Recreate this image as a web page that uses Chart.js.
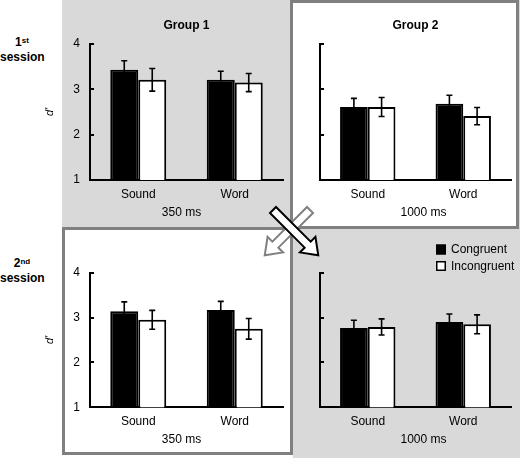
<!DOCTYPE html>
<html>
<head>
<meta charset="utf-8">
<script src="https://cdn.jsdelivr.net/npm/chart.js@4/dist/chart.umd.min.js"></script>
<style>
  html, body { margin:0; padding:0; background:#fff; }
  body { width:520px; height:458px; position:relative; overflow:hidden; font-family:"Liberation Sans", Arial, sans-serif; }
  .abs { position:absolute; }
  .box { position:absolute; box-sizing:border-box; border:3px solid #808080; background:#fff; }
  .sess { position:absolute; width:44px; text-align:center; font-weight:bold; font-size:12px; line-height:15px; color:#000; }
  .sess sup { font-size:8px; vertical-align:top; position:relative; top:-2px; }
</style>
</head>
<body>
<div class="abs" style="left:62px;top:0;width:458px;height:458px;background:#d9d9d9"></div>
<div class="box" style="left:290px;top:0;width:229px;height:229px"></div>
<div class="box" style="left:62px;top:227px;width:231px;height:228px"></div>
<div class="abs" style="left:62px;top:455px;width:231px;height:3px;background:#fff"></div>

<div class="sess" style="left:0;top:35px">1<sup>st</sup><br>session</div>
<div class="sess" style="left:0;top:256px">2<sup>nd</sup><br>session</div>

<div class="abs" style="left:0;top:0;width:290px;height:226px"><canvas id="c1" width="290" height="226"></canvas></div>
<div class="abs" style="left:290px;top:0;width:228px;height:226px"><canvas id="c2" width="228" height="226"></canvas></div>
<div class="abs" style="left:0;top:228px;width:293px;height:228px"><canvas id="c3" width="293" height="228"></canvas></div>
<div class="abs" style="left:290px;top:228px;width:230px;height:230px"><canvas id="c4" width="230" height="230"></canvas></div>

<svg class="abs" style="left:0;top:0;z-index:10" width="520" height="458">
  <polygon points="0,-4.25 49,-4.25 49,-11 64,0 49,11 49,4.25 0,4.25" transform="translate(310,210) rotate(135)" fill="#fff" stroke="#808080" stroke-width="2" stroke-linejoin="miter"/>
  <polygon points="0,-4.25 49,-4.25 49,-11 64,0 49,11 49,4.25 0,4.25" transform="translate(273,210) rotate(45)" fill="#fff" stroke="#000" stroke-width="2" stroke-linejoin="miter"/>
</svg>

<script>
// ---- data ----
const categories = ['Sound', 'Word'];
const seriesNames = ['Congruent', 'Incongruent'];
const yTicks = [1, 2, 3, 4];
const yAxisTitle = "d'";
const panelTitles = ['Group 1', 'Group 2'];
const durationLabels = ['350 ms', '1000 ms', '350 ms', '1000 ms'];

// Group 1, 1st session (350 ms)
const g1s1Congruent = [3.43, 3.21];
const g1s1CongruentErr = [0.20, 0.19];
const g1s1Incongruent = [3.21, 3.15];
const g1s1IncongruentErr = [0.25, 0.20];
// Group 2, 1st session (1000 ms)
const g2s1Congruent = [2.61, 2.68];
const g2s1CongruentErr = [0.19, 0.19];
const g2s1Incongruent = [2.61, 2.41];
const g2s1IncongruentErr = [0.21, 0.19];
// Group 1, 2nd session (350 ms)
const g1s2Congruent = [3.14, 3.17];
const g1s2CongruentErr = [0.21, 0.19];
const g1s2Incongruent = [2.95, 2.75];
const g1s2IncongruentErr = [0.21, 0.23];
// Group 2, 2nd session (1000 ms)
const g2s2Congruent = [2.77, 2.90];
const g2s2CongruentErr = [0.17, 0.18];
const g2s2Incongruent = [2.79, 2.85];
const g2s2IncongruentErr = [0.18, 0.21];

const FONT = '"Liberation Sans", Arial, sans-serif';

// ---- plugins ----
const errorBars = {
  id: 'errorBars',
  afterDatasetsDraw(chart) {
    const ctx = chart.ctx, y = chart.scales.y;
    ctx.save();
    ctx.strokeStyle = '#000';
    ctx.lineWidth = 1.6;
    chart.data.datasets.forEach((ds, i) => {
      const meta = chart.getDatasetMeta(i);
      meta.data.forEach((el, j) => {
        const v = ds.data[j], e = ds.errors[j];
        const top = y.getPixelForValue(v + e), bot = y.getPixelForValue(v - e);
        const x = el.x;
        ctx.beginPath();
        ctx.moveTo(x, top); ctx.lineTo(x, bot);
        ctx.moveTo(x - 3, top); ctx.lineTo(x + 3, top);
        ctx.moveTo(x - 3, bot); ctx.lineTo(x + 3, bot);
        ctx.stroke();
      });
    });
    ctx.restore();
  }
};

const innerTicks = {
  id: 'innerTicks',
  afterDraw(chart) {
    const ctx = chart.ctx, y = chart.scales.y, left = chart.chartArea.left;
    ctx.save();
    ctx.strokeStyle = '#000';
    ctx.lineWidth = 2;
    yTicks.forEach(t => {
      const py = Math.round(y.getPixelForValue(t));
      ctx.beginPath();
      ctx.moveTo(left, py); ctx.lineTo(left + 4, py);
      ctx.stroke();
    });
    ctx.restore();
  }
};

const xNote = {
  id: 'xNote',
  afterDraw(chart, args, opts) {
    if (!opts || !opts.text) return;
    const ctx = chart.ctx, ca = chart.chartArea;
    ctx.save();
    ctx.font = '12px ' + FONT;
    ctx.fillStyle = '#000';
    ctx.textAlign = 'center';
    ctx.textBaseline = 'middle';
    ctx.fillText(opts.text, (ca.left + ca.right) / 2 + (opts.dx || 0), ca.bottom + (opts.dy || 32.5));
    ctx.restore();
  }
};

const boxLegend = {
  id: 'boxLegend',
  afterDraw(chart, args, opts) {
    if (!opts || !opts.show) return;
    const ctx = chart.ctx;
    ctx.save();
    ctx.font = '12px ' + FONT;
    ctx.textAlign = 'left';
    ctx.textBaseline = 'middle';
    chart.data.datasets.forEach((ds, i) => {
      const x = opts.x, y = opts.y + i * opts.gap;
      ctx.fillStyle = ds.backgroundColor;
      ctx.fillRect(x, y, 10, 10);
      ctx.strokeStyle = '#000';
      ctx.lineWidth = 1.5;
      ctx.strokeRect(x + 0.75, y + 0.75, 8.5, 8.5);
      ctx.fillStyle = '#000';
      ctx.fillText(ds.label, x + 15, y + 5.5);
    });
    ctx.restore();
  }
};

function makeChart(id, p) {
  return new Chart(document.getElementById(id), {
    type: 'bar',
    data: {
      labels: categories,
      datasets: [
        { label: seriesNames[0], data: p.cong, errors: p.congErr, backgroundColor: '#000', borderColor: '#000', borderWidth: 2,
          barPercentage: 1, categoryPercentage: 0.58 },
        { label: seriesNames[1], data: p.incong, errors: p.incongErr, backgroundColor: '#fff', borderColor: '#000', borderWidth: 2,
          barPercentage: 1, categoryPercentage: 0.58 }
      ]
    },
    options: {
      responsive: false,
      animation: false,
      devicePixelRatio: 1,
      layout: { padding: p.padding },
      plugins: {
        legend: { display: false },
        tooltip: { enabled: false },
        title: {
          display: !!p.title, text: p.title || '', fullSize: false, color: '#000',
          font: { family: FONT, size: 12, weight: 'bold' },
          padding: { top: 18, bottom: 11.6 }
        },
        xNote: { text: p.note, dx: p.noteDx, dy: 32.5 },
        boxLegend: { show: !!p.legend, x: 146, y: 16.5, gap: 16.5 }
      },
      scales: {
        x: {
          grid: { display: false, drawTicks: false },
          border: { display: true, color: '#000', width: 2 },
          ticks: { color: '#000', padding: 7, font: { family: FONT, size: 12 } },
          afterFit: s => { s.height = p.xHeight; }
        },
        y: {
          min: 1, max: 4,
          grid: { display: false, drawTicks: false },
          border: { display: true, color: '#000', width: 2 },
          ticks: { display: p.showY, stepSize: 1, color: '#000', padding: 10, font: { family: FONT, size: 12 } },
          title: {
            display: p.showY, text: yAxisTitle, color: '#000',
            font: { family: FONT, size: 11, style: 'italic' },
            padding: { top: 43.4, bottom: 0 }
          },
          afterFit: s => { s.width = p.yWidth; }
        }
      }
    },
    plugins: [errorBars, innerTicks, xNote, boxLegend]
  });
}

makeChart('c1', { cong: g1s1Congruent, congErr: g1s1CongruentErr, incong: g1s1Incongruent, incongErr: g1s1IncongruentErr,
  title: panelTitles[0], note: durationLabels[0], noteDx: -5, showY: true, yWidth: 90,
  padding: { left: 0, right: 7, top: 0, bottom: 0 }, xHeight: 46 });
makeChart('c2', { cong: g2s1Congruent, congErr: g2s1CongruentErr, incong: g2s1Incongruent, incongErr: g2s1IncongruentErr,
  title: panelTitles[1], note: durationLabels[1], noteDx: 8, showY: false, yWidth: 30,
  padding: { left: 0, right: 7, top: 0, bottom: 0 }, xHeight: 46 });
makeChart('c3', { cong: g1s2Congruent, congErr: g1s2CongruentErr, incong: g1s2Incongruent, incongErr: g1s2IncongruentErr,
  title: null, note: durationLabels[2], noteDx: -5, showY: true, yWidth: 90,
  padding: { left: 0, right: 10, top: 44.7, bottom: 0 }, xHeight: 48.7 });
makeChart('c4', { cong: g2s2Congruent, congErr: g2s2CongruentErr, incong: g2s2Incongruent, incongErr: g2s2IncongruentErr,
  title: null, note: durationLabels[3], noteDx: 8, showY: false, yWidth: 30, legend: true,
  padding: { left: 0, right: 9, top: 44.7, bottom: 0 }, xHeight: 50.7 });
</script>
</body>
</html>
